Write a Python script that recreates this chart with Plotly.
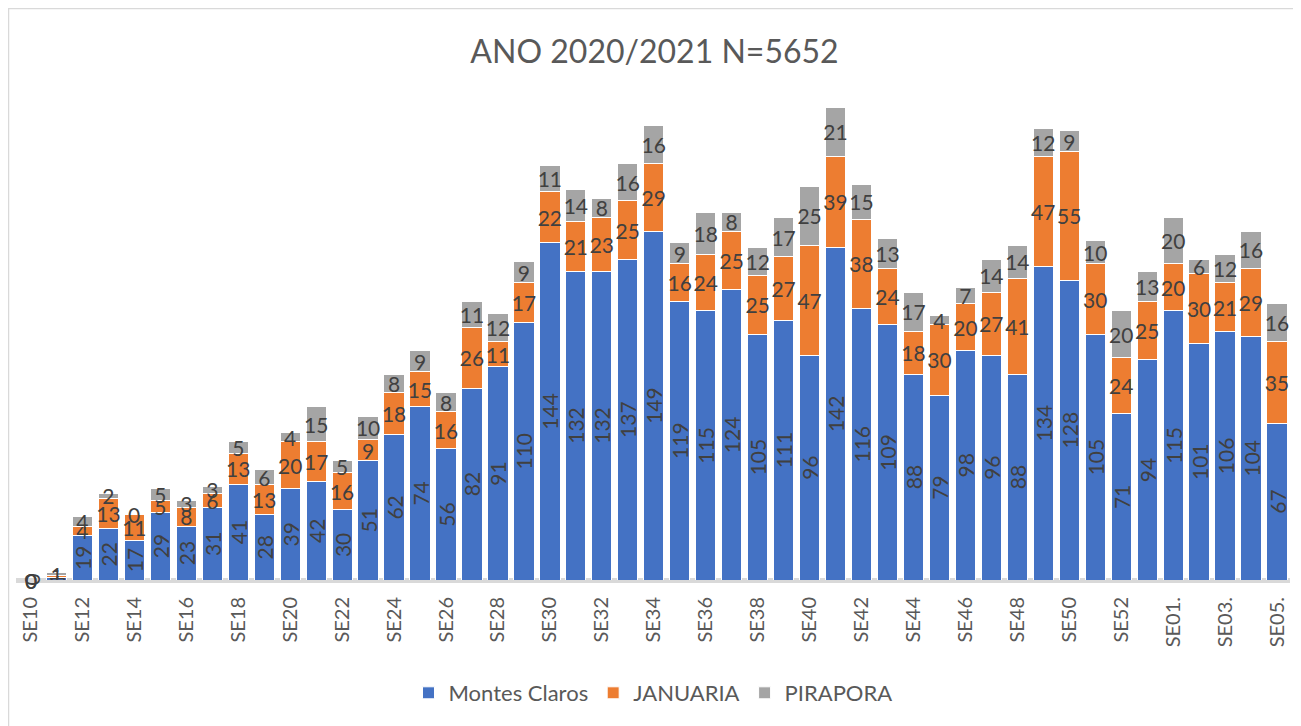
import plotly.graph_objects as go

# weeks (epidemiological weeks)
semanas = ["SE%d" % i for i in range(10, 54)] + ["SE0%d." % i for i in range(1, 6)]

montes_claros = [0, 1, 19, 22, 17, 29, 23, 31, 41, 28, 39, 42, 30, 51, 62, 74, 56, 82, 91, 110,
                 144, 132, 132, 137, 149, 119, 115, 124, 105, 111, 96, 142, 116, 109, 88, 79, 98,
                 96, 88, 134, 128, 105, 71, 94, 115, 101, 106, 104, 67]
januaria = [0, 1, 4, 13, 11, 5, 8, 6, 13, 13, 20, 17, 16, 9, 18, 15, 16, 26, 11, 17,
            22, 21, 23, 25, 29, 16, 24, 25, 25, 27, 47, 39, 38, 24, 18, 30, 20,
            27, 41, 47, 55, 30, 24, 25, 20, 30, 21, 29, 35]
pirapora = [0, 1, 4, 2, 0, 5, 3, 3, 5, 6, 4, 15, 5, 10, 8, 9, 8, 11, 12, 9,
            11, 14, 8, 16, 16, 9, 18, 8, 12, 17, 25, 21, 15, 13, 17, 4, 7,
            14, 14, 12, 9, 10, 20, 13, 20, 6, 12, 16, 16]

tick_labels = semanas[::2]

FONT = "Lato, Open Sans, sans-serif"
LABEL_COLOR = "#404040"
GREY_TXT = "#595959"

# page body has an 8px margin, so the figure is sized to fit the window
W, H = 1293, 718
ML, MR, MT, MB = 8, 11, 57, 146
PW, PH = W - ML - MR, H - MT - MB

fig = go.Figure()
series = [
    ("Montes Claros", montes_claros, "#4472C4", -90),
    ("JANUARIA", januaria, "#ED7D31", 0),
    ("PIRAPORA", pirapora, "#A5A5A5", 0),
]
base = [0] * len(semanas)
zero_notes = []
for name, vals, color, ang in series:
    fig.add_trace(go.Bar(
        x=semanas, y=vals, name=name,
        marker=dict(color=color, line=dict(color="white", width=1)),
        text=[str(v) for v in vals], textposition="inside",
        insidetextanchor="middle", textangle=ang, constraintext="none",
        textfont=dict(size=21, color=LABEL_COLOR, family=FONT),
    ))
    # zero-height segments get no bar text, so label them by hand
    for i, v in enumerate(vals):
        if v == 0:
            zero_notes.append(dict(x=semanas[i], y=base[i], text="0", showarrow=False,
                                   textangle=ang, yanchor="middle",
                                   font=dict(size=21, color=LABEL_COLOR, family=FONT)))
    base = [b + v for b, v in zip(base, vals)]

fig.update_layout(
    barmode="stack",
    bargap=0.22,
    width=W, height=H,
    margin=dict(l=ML, r=MR, t=MT, b=MB, autoexpand=False),
    paper_bgcolor="white", plot_bgcolor="white",
    font=dict(family=FONT, color=GREY_TXT),
    title=dict(text="ANO 2020/2021 N=5652", x=0.5, xanchor="center", y=1 - 44 / H, yanchor="middle",
               font=dict(size=32, color=GREY_TXT, family=FONT)),
    legend=dict(orientation="h", x=0.5, xanchor="center", y=(PH - (685 - MT)) / PH, yanchor="middle",
                font=dict(size=22, color=GREY_TXT, family=FONT), traceorder="normal"),
    xaxis=dict(type="category", tickmode="array", tickvals=tick_labels, ticktext=tick_labels,
               tickangle=-90, tickfont=dict(size=20, color=GREY_TXT, family=FONT),
               ticklabelstandoff=12,
               showgrid=False, showline=False, ticks="", automargin=False),
    yaxis=dict(range=[0, 220], showticklabels=False, showgrid=False, automargin=False,
               zeroline=True, zerolinecolor="#D9D9D9", zerolinewidth=5),
    annotations=zero_notes,
    shapes=[dict(type="rect", xref="paper", yref="paper",
                 x0=(0.5 - ML) / PW, x1=(1286 - ML) / PW,
                 y0=(PH - (H + 5 - MT)) / PH, y1=(PH - (0.5 - MT)) / PH,
                 line=dict(color="#D9D9D9", width=1.5), layer="below")],
)

fig.write_html("out.html")
